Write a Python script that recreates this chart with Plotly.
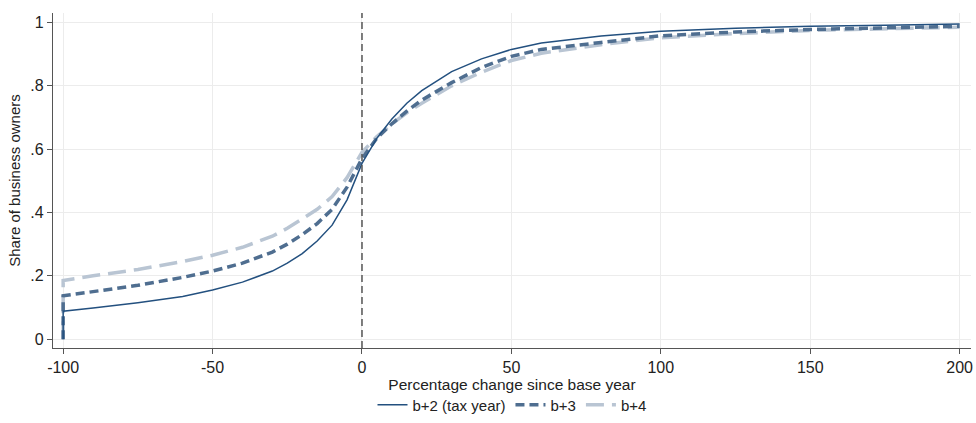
import plotly.graph_objects as go

pct_change = [-100, -100, -90, -75, -60, -50, -40, -30, -25, -20, -15, -10, -5, 0,
              5, 10, 15, 20, 30, 40, 50, 60, 80, 100, 125, 150, 175, 200]

share_b2 = [0, 0.088, 0.098, 0.115, 0.135, 0.155, 0.18, 0.215, 0.24, 0.27, 0.31, 0.36, 0.44, 0.555,
            0.635, 0.695, 0.745, 0.785, 0.845, 0.885, 0.915, 0.935, 0.957, 0.972, 0.982, 0.988, 0.991, 0.995]
share_b3 = [0, 0.137, 0.15, 0.17, 0.195, 0.215, 0.24, 0.275, 0.30, 0.33, 0.365, 0.41, 0.48, 0.57,
            0.635, 0.68, 0.72, 0.755, 0.81, 0.858, 0.893, 0.915, 0.937, 0.958, 0.97, 0.978, 0.983, 0.988]
share_b4 = [0, 0.185, 0.2, 0.22, 0.245, 0.265, 0.29, 0.325, 0.35, 0.38, 0.41, 0.45, 0.51, 0.59,
            0.64, 0.68, 0.715, 0.745, 0.80, 0.843, 0.88, 0.903, 0.93, 0.952, 0.965, 0.975, 0.98, 0.985]

series_names = ["b+2 (tax year)", "b+3", "b+4"]
x_ticks = [-100, -50, 0, 50, 100, 150, 200]
x_tick_labels = ["-100", "-50", "0", "50", "100", "150", "200"]
y_ticks = [0, 0.2, 0.4, 0.6, 0.8, 1]
y_tick_labels = ["0", ".2", ".4", ".6", ".8", "1"]

c_b2, c_b3, c_b4 = "#23507f", "#4f6e90", "#b9c5d3"
d_b3, d_b4 = "9px,5px", "18px,8px"

fig = go.Figure()
fig.add_trace(go.Scatter(x=pct_change, y=share_b4, mode="lines", name=series_names[2],
                         line=dict(color=c_b4, width=3.5, dash=d_b4), showlegend=False))
fig.add_trace(go.Scatter(x=pct_change, y=share_b3, mode="lines", name=series_names[1],
                         line=dict(color=c_b3, width=3.5, dash=d_b3), showlegend=False))
fig.add_trace(go.Scatter(x=pct_change, y=share_b2, mode="lines", name=series_names[0],
                         line=dict(color=c_b2, width=1.5)))
# legend-only entries to keep legend order
fig.add_trace(go.Scatter(x=[None], y=[None], mode="lines", name=series_names[1],
                         line=dict(color=c_b3, width=3.5, dash=d_b3)))
fig.add_trace(go.Scatter(x=[None], y=[None], mode="lines", name=series_names[2],
                         line=dict(color=c_b4, width=3.5, dash=d_b4)))

fig.add_vline(x=0, line=dict(color="#555555", width=1.5, dash="7px,4px"))

base_font = dict(family="Liberation Sans, Arial, sans-serif", size=15, color="#222222")

fig.update_layout(
    width=976, height=423,
    margin=dict(l=53, r=5, t=13, b=75, autoexpand=False),
    paper_bgcolor="white", plot_bgcolor="white",
    font=base_font,
    showlegend=True,
    legend=dict(orientation="h", x=0.5, xanchor="center", y=-0.17, yanchor="middle",
                font=dict(size=15, color="#222222"), traceorder="normal",
                itemwidth=30),
    xaxis=dict(range=[-103.4, 203.8], tickvals=x_ticks, ticktext=x_tick_labels, showgrid=True,
               gridcolor="#ececec", zeroline=False, showline=True, linecolor="#555555", linewidth=1.2,
               ticks="outside", ticklen=5, tickcolor="#555555", tickfont=dict(size=16),
               title=dict(text="Percentage change since base year", font=dict(size=15.5), standoff=1)),
    yaxis=dict(range=[-0.028, 1.03], tickvals=y_ticks, ticktext=y_tick_labels, showgrid=True,
               gridcolor="#ececec", zeroline=False, showline=True, linecolor="#555555", linewidth=1.2,
               ticks="outside", ticklen=5, tickcolor="#555555", tickfont=dict(size=16),
               title=dict(text="Share of business owners", font=dict(size=15), standoff=6)),
)

fig.write_html("out.html")
